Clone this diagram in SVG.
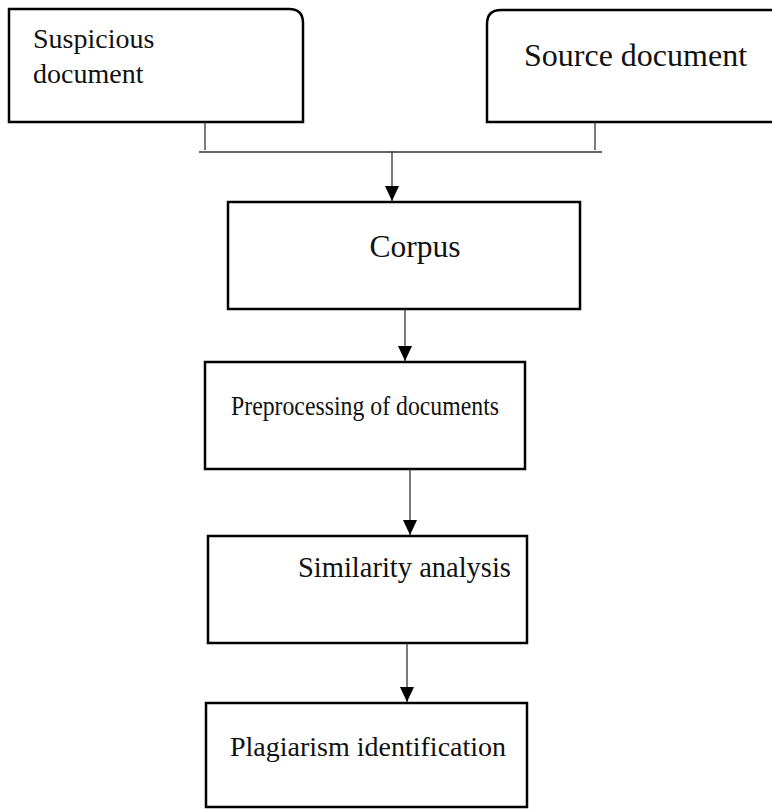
<svg xmlns="http://www.w3.org/2000/svg" width="772" height="809" viewBox="0 0 772 809">
<defs>
<style>
.box{fill:#fff;stroke:#000;stroke-width:2.5}
.conn{stroke:#333;stroke-width:1.3;fill:none}
.lbl{font-family:"Liberation Serif","Times New Roman",serif;font-size:28px;fill:#111}
</style>
<marker id="ah" markerWidth="15" markerHeight="14" refX="15" refY="7" orient="auto" markerUnits="userSpaceOnUse">
<path d="M0,0 L15,7 L0,14 Z" fill="#000"/>
</marker>
</defs>
<rect width="772" height="809" fill="#fff"/>
<g id="suspicious">
<path class="box" d="M9,9 H289 Q303,9 303,23 V122 H9 Z"/>
<text class="lbl" x="33" y="48">Suspicious</text>
<text class="lbl" x="33" y="83">document</text>
</g>
<g id="source">
<path class="box" d="M774,122 H487 V24 Q487,10 501,10 H774"/>
<text class="lbl" x="524" y="66" style="font-size:32px">Source document</text>
</g>
<g id="corpus">
<rect class="box" x="228" y="202" width="352" height="107"/>
<text class="lbl" x="415" y="257" text-anchor="middle" style="font-size:31.5px">Corpus</text>
</g>
<g id="preprocessing">
<rect class="box" x="205" y="362" width="320" height="107"/>
<text class="lbl" x="231" y="415" style="font-size:27px" textLength="268" lengthAdjust="spacingAndGlyphs">Preprocessing of documents</text>
</g>
<g id="similarity">
<rect class="box" x="208" y="536" width="319" height="107"/>
<text class="lbl" x="298" y="577" style="font-size:28.5px">Similarity analysis</text>
</g>
<g id="plagiarism">
<rect class="box" x="206" y="703" width="321" height="104"/>
<text class="lbl" x="230" y="756">Plagiarism identification</text>
</g>
<g id="connectors">
<path class="conn" d="M205,122 V150"/>
<path class="conn" d="M595,122 V150"/>
<path class="conn" d="M199,152 H602"/>
<path class="conn" d="M392,151 V201" marker-end="url(#ah)"/>
<path class="conn" d="M405,309 V361" marker-end="url(#ah)"/>
<path class="conn" d="M410,469 V535" marker-end="url(#ah)"/>
<path class="conn" d="M407,643 V702" marker-end="url(#ah)"/>
</g>
</svg>
